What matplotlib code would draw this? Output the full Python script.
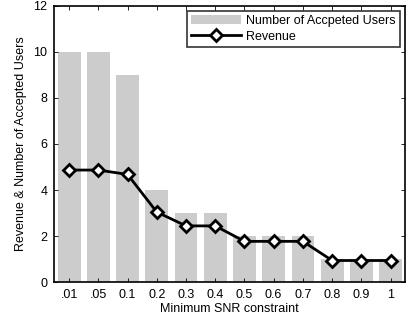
import matplotlib
matplotlib.use("Agg")
import matplotlib.pyplot as plt

plt.rcParams["font.family"] = ["Liberation Sans", "DejaVu Sans"]

snr_labels = [".01", ".05", "0.1", "0.2", "0.3", "0.4", "0.5", "0.6", "0.7", "0.8", "0.9", "1"]
accepted_users = [10, 10, 9, 4, 3, 3, 2, 2, 2, 1, 1, 1]
revenue = [4.87, 4.87, 4.68, 3.05, 2.45, 2.45, 1.78, 1.78, 1.78, 0.95, 0.95, 0.95]

fig = plt.figure(figsize=(4.16, 3.25), dpi=100)
ax = fig.add_axes([0.131, 0.131, 0.843, 0.852])

x = list(range(1, len(snr_labels) + 1))
bars = ax.bar(x, accepted_users, width=0.78, color="#cccccc", edgecolor="none",
              label="Number of Accpeted Users", zorder=1)
line, = ax.plot(x, revenue, color="k", lw=2, marker="D", markersize=6.5,
                markerfacecolor="white", markeredgecolor="k", markeredgewidth=2,
                label="Revenue", zorder=3)

ax.set_xlim(0.5, 12.5)
ax.set_ylim(0, 12)
ax.set_xticks(x)
ax.set_xticklabels(snr_labels)
ax.set_yticks([0, 2, 4, 6, 8, 10, 12])
ax.tick_params(direction="in", top=True, right=True, labelsize=9, length=3,
               width=0.6, pad=5)
for s in ax.spines.values():
    s.set_linewidth(1.2)
ax.set_xlabel("Minimum SNR constraint", fontsize=9, labelpad=1)
ax.set_ylabel("Revenue & Number of Accepted Users", fontsize=9, labelpad=5)

leg = ax.legend(handles=[bars, line], loc="upper right", fontsize=9, frameon=True,
                fancybox=False, edgecolor="k", borderaxespad=0.4,
                handlelength=4.0, borderpad=0.35, labelspacing=0.3,
                handletextpad=0.4)
leg.get_frame().set_linewidth(1.2)

fig.savefig("out.png", dpi=100)
